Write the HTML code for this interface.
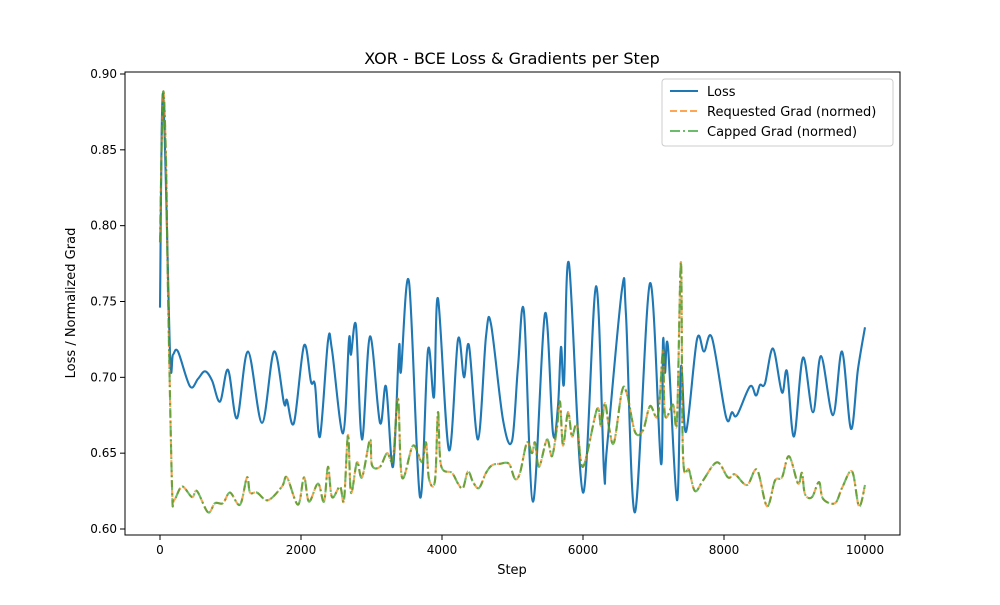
<!DOCTYPE html>
<html><head><meta charset="utf-8"><style>
body{margin:0;background:#fff;font-family:"Liberation Sans","DejaVu Sans",sans-serif}
svg text{font-family:"DejaVu Sans","Liberation Sans",sans-serif;fill:#000}
</style></head><body>
<svg id="chart" width="1000" height="600" viewBox="0 0 1000 600">
<rect width="1000" height="600" fill="#fff"/>
<text x="512" y="64" font-size="16" text-anchor="middle">XOR - BCE Loss &amp; Gradients per Step</text>
<g id="plot"></g>
<g id="axes"></g>
<text x="512" y="574" font-size="13" text-anchor="middle">Step</text>
<text transform="translate(75,303) rotate(-90)" font-size="13" text-anchor="middle">Loss / Normalized Grad</text>
<g>
<rect x="662" y="79" width="231" height="67" rx="3" fill="#fff" fill-opacity="0.8" stroke="#ccc"/>
<line x1="670" y1="91" x2="698" y2="91" stroke="#1f77b4" stroke-width="2"/>
<text x="707" y="96" font-size="13">Loss</text>
<line x1="670" y1="111" x2="698" y2="111" stroke="#ff7f0e" stroke-opacity="0.7" stroke-width="2" stroke-dasharray="7,3"/>
<text x="707" y="116" font-size="13">Requested Grad (normed)</text>
<line x1="670" y1="131" x2="698" y2="131" stroke="#2ca02c" stroke-opacity="0.7" stroke-width="2" stroke-dasharray="10,3,2,3"/>
<text x="707" y="136" font-size="13">Capped Grad (normed)</text>
</g>
</svg>
<script>
const lossSteps=[0,43,142,184,255,426,539,638,738,851,965,1092,1248,1447,1617,1759,1801,1901,2043,2142,2199,2270,2383,2440,2596,2681,2709,2780,2865,2979,3120,3206,3305,3390,3418,3532,3688,3801,3886,3943,4099,4227,4312,4383,4511,4624,4695,4865,4993,5078,5163,5291,5461,5574,5645,5688,5730,5801,6000,6184,6298,6340,6553,6610,6738,6950,7106,7135,7163,7206,7333,7390,7461,7617,7716,7830,8028,8113,8184,8369,8454,8510,8581,8695,8822,8893,8993,9120,9262,9376,9546,9674,9801,9900,10000];
const lossVals=[0.746,0.887,0.716,0.715,0.717,0.694,0.699,0.704,0.698,0.684,0.705,0.673,0.717,0.670,0.717,0.683,0.685,0.670,0.721,0.697,0.695,0.661,0.724,0.718,0.663,0.725,0.715,0.734,0.659,0.727,0.670,0.694,0.641,0.720,0.704,0.763,0.621,0.718,0.687,0.752,0.652,0.725,0.700,0.721,0.659,0.727,0.735,0.672,0.658,0.707,0.743,0.618,0.742,0.663,0.681,0.720,0.696,0.775,0.624,0.760,0.638,0.654,0.758,0.741,0.611,0.762,0.643,0.724,0.703,0.720,0.619,0.707,0.664,0.725,0.717,0.726,0.674,0.677,0.675,0.694,0.688,0.695,0.696,0.719,0.690,0.704,0.661,0.713,0.677,0.714,0.675,0.717,0.666,0.705,0.733];
const gradSteps=[0,43,85,113,170,199,312,454,525,681,780,894,993,1135,1234,1277,1376,1532,1730,1801,1957,2043,2113,2241,2326,2383,2440,2553,2610,2667,2709,2794,2865,2979,3007,3120,3220,3305,3376,3433,3589,3716,3773,3816,3901,3943,3986,4142,4227,4298,4369,4440,4525,4624,4709,4823,4950,5035,5106,5206,5277,5319,5376,5489,5560,5631,5674,5716,5787,5844,5915,6000,6199,6255,6312,6369,6440,6553,6624,6738,6851,6950,7064,7135,7163,7277,7333,7390,7418,7503,7589,7702,7901,8057,8156,8326,8468,8610,8723,8822,8922,9050,9106,9149,9248,9347,9404,9574,9674,9816,9915,10000];
const requestedVals=[0.789,0.887,0.843,0.756,0.628,0.619,0.628,0.621,0.625,0.611,0.617,0.617,0.624,0.616,0.634,0.624,0.624,0.619,0.628,0.634,0.616,0.634,0.618,0.630,0.618,0.641,0.621,0.628,0.619,0.662,0.624,0.644,0.634,0.659,0.642,0.641,0.650,0.646,0.686,0.634,0.655,0.644,0.657,0.633,0.632,0.677,0.642,0.637,0.630,0.627,0.638,0.631,0.627,0.637,0.642,0.643,0.643,0.633,0.637,0.657,0.650,0.657,0.641,0.659,0.648,0.667,0.684,0.655,0.677,0.661,0.669,0.641,0.679,0.668,0.683,0.667,0.657,0.691,0.689,0.664,0.665,0.681,0.675,0.718,0.675,0.682,0.672,0.776,0.649,0.639,0.625,0.632,0.644,0.634,0.636,0.629,0.639,0.615,0.632,0.634,0.648,0.630,0.637,0.623,0.621,0.631,0.620,0.617,0.627,0.638,0.615,0.629];
const cappedVals=requestedVals.slice();
const xTicks=[0,2000,4000,6000,8000,10000];
const yTicks=[0.60,0.65,0.70,0.75,0.80,0.85,0.90];

const X0=125,X1=900,Y0=72,Y1=535;
const xs=s=>160+s*0.0705;
const ys=v=>529-(v-0.60)*1516.7;
const NS='http://www.w3.org/2000/svg';
const plot=document.getElementById('plot'),axes=document.getElementById('axes');
function mk(t,a,p){const e=document.createElementNS(NS,t);for(const k in a)e.setAttribute(k,a[k]);p.appendChild(e);return e;}
function smooth(steps,vals){const P=steps.map((s,i)=>[xs(s),ys(vals[i])]);let d='M'+P[0][0].toFixed(1)+','+P[0][1].toFixed(1);
for(let i=0;i<P.length-1;i++){const p0=P[Math.max(0,i-1)],p1=P[i],p2=P[i+1],p3=P[Math.min(P.length-1,i+2)];
const c1=[p1[0]+(p2[0]-p0[0])/6,p1[1]+(p2[1]-p0[1])/6],c2=[p2[0]-(p3[0]-p1[0])/6,p2[1]-(p3[1]-p1[1])/6];
d+='C'+c1[0].toFixed(1)+','+c1[1].toFixed(1)+' '+c2[0].toFixed(1)+','+c2[1].toFixed(1)+' '+p2[0].toFixed(1)+','+p2[1].toFixed(1);}return d;}
const l1=mk('path',{d:smooth(lossSteps,lossVals),fill:'none',stroke:'#1f77b4','stroke-width':2.1,'stroke-linejoin':'round'},plot);


const l2=mk('path',{d:smooth(gradSteps,requestedVals),fill:'none',stroke:'#ff7f0e','stroke-opacity':0.7,'stroke-width':2.1,'stroke-dasharray':'7,3'},plot);


const l3=mk('path',{d:smooth(gradSteps,cappedVals),fill:'none',stroke:'#2ca02c','stroke-opacity':0.7,'stroke-width':2.1,'stroke-dasharray':'10,3,2,3'},plot);


const fr=mk('rect',{x:X0,y:Y0,width:X1-X0,height:Y1-Y0,fill:'none',stroke:'#000','stroke-width':1},axes);


xTicks.forEach(t=>{const x=xs(t);mk('line',{x1:x,y1:Y1,x2:x,y2:Y1+5,stroke:'#000'},axes);
const tx=mk('text',{x:x,y:Y1+19,'font-size':12,'text-anchor':'middle'},axes);tx.textContent=String(t);

});
yTicks.forEach(t=>{const y=ys(t);mk('line',{x1:X0-5,y1:y,x2:X0,y2:y,stroke:'#000'},axes);
const tx=mk('text',{x:X0-8,y:y+4,'font-size':12,'text-anchor':'end'},axes);tx.textContent=t.toFixed(2);

});
</script>
</body></html>
